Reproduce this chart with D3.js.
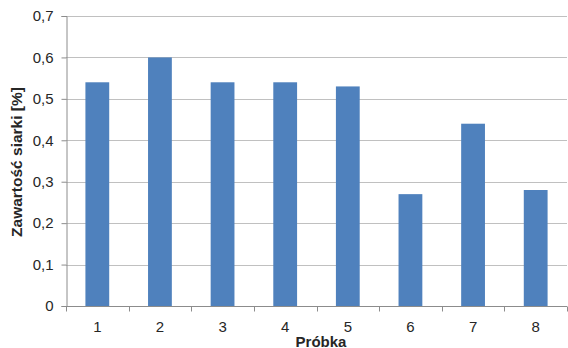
<!DOCTYPE html>
<html>
<head>
<meta charset="utf-8">
<script src="https://cdn.jsdelivr.net/npm/d3@7"></script>
<style>
  html, body { margin: 0; padding: 0; background: #fff; }
  svg { display: block; }
  text { font-family: "Liberation Sans", Arial, sans-serif; }
</style>
</head>
<body>
<script>
// Sulfur content per sample
const samples = ["1", "2", "3", "4", "5", "6", "7", "8"];
const sulfur = [0.54, 0.60, 0.54, 0.54, 0.53, 0.27, 0.44, 0.28];
const yTicks = [0, 0.1, 0.2, 0.3, 0.4, 0.5, 0.6, 0.7];

const W = 568, H = 348;
const margin = { top: 16, right: 1, bottom: 42, left: 66 };
const innerW = W - margin.left - margin.right;
const innerH = H - margin.top - margin.bottom;

const svg = d3.select("body").append("svg")
  .attr("width", W).attr("height", H);

const g = svg.append("g")
  .attr("transform", `translate(${margin.left},${margin.top})`);

const x = d3.scaleBand().domain(samples).range([0, innerW])
  .paddingInner(0.62).paddingOuter(0.31);
const xEdges = d3.scaleBand().domain(samples).range([0, innerW]);
const y = d3.scaleLinear().domain([0, 0.7]).range([innerH, 0]);

const fmt = v => d3.format(".1f")(v).replace(".", ",").replace(/^0,0$/, "0");

// horizontal gridlines
g.append("g").selectAll("line").data(yTicks.filter(t => t > 0)).join("line")
  .attr("x1", 0).attr("x2", innerW)
  .attr("y1", d => Math.round(y(d)) + 0.5).attr("y2", d => Math.round(y(d)) + 0.5)
  .attr("stroke", "#c0c0c0").attr("stroke-width", 1);

// bars
g.append("g").selectAll("rect").data(samples).join("rect")
  .attr("x", (d) => x(d))
  .attr("width", x.bandwidth())
  .attr("y", (d, i) => y(sulfur[i]))
  .attr("height", (d, i) => innerH - y(sulfur[i]))
  .attr("fill", "#4f81bd");

// y axis
const yAxis = g.append("g").attr("transform", "translate(0.5,0)")
  .call(d3.axisLeft(y).tickValues(yTicks).tickFormat(fmt).tickSize(5).tickPadding(8));
yAxis.select(".domain").attr("stroke", "#8c8c8c");
yAxis.selectAll(".tick line").attr("stroke", "#8c8c8c");
yAxis.selectAll(".tick text").attr("font-size", 15).attr("fill", "#262626")
  .attr("font-family", "Liberation Sans, Arial, sans-serif");

// x axis: ticks at category boundaries
const xg = g.append("g").attr("transform", `translate(0,${Math.round(innerH) + 0.5})`);
xg.append("line").attr("x1", 0).attr("x2", innerW).attr("stroke", "#8c8c8c");
const bounds = samples.map(s => xEdges(s)).concat([innerW]);
xg.selectAll("line.tk").data(bounds).join("line").attr("class", "tk")
  .attr("x1", d => Math.round(d) + 0.5).attr("x2", d => Math.round(d) + 0.5)
  .attr("y1", 0).attr("y2", 5).attr("stroke", "#8c8c8c");
xg.selectAll("text").data(samples).join("text")
  .attr("x", d => x(d) + x.bandwidth() / 2)
  .attr("y", 25)
  .attr("text-anchor", "middle")
  .attr("font-size", 15).attr("fill", "#262626")
  .text(d => d);

// axis titles
svg.append("text")
  .attr("x", 321).attr("y", 346.5)
  .attr("text-anchor", "middle").attr("font-size", 15).attr("font-weight", "bold")
  .attr("fill", "#262626").text("Próbka");

svg.append("text")
  .attr("transform", `translate(22,162) rotate(-90)`)
  .attr("text-anchor", "middle").attr("font-size", 15.5).attr("font-weight", "bold")
  .attr("fill", "#262626").text("Zawartość siarki [%]");
</script>
</body>
</html>
